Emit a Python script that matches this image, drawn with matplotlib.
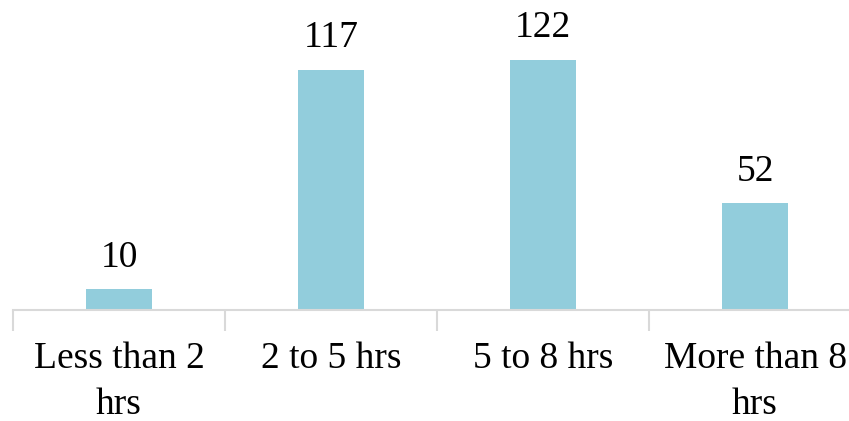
import numpy as np
import matplotlib.pyplot as plt

plt.rc('font', family=['Liberation Serif', 'DejaVu Serif'])

categories = ["Less than 2\nhrs", "2 to 5 hrs", "5 to 8 hrs", "More than 8\nhrs"]
counts = [10, 117, 122, 52]

fig = plt.figure(figsize=(8.49, 4.21), dpi=100)
# axis runs off the right edge, like the source image
ax = fig.add_axes([13 / 849, (421 - 310) / 421, 848 / 849, 310 / 421])

x = np.arange(len(categories))
bars = ax.bar(x, counts, width=0.31, color="#92CDDC", zorder=2)

for xi, v in zip(x, counts):
    ax.text(xi, v + 7, str(v), ha="center", va="bottom", fontsize=27, color="black")

ax.set_xlim(-0.5, 3.5)
ax.set_ylim(0, 151)

for s in ["top", "right", "left"]:
    ax.spines[s].set_visible(False)
ax.spines["bottom"].set_color("#D9D9D9")
ax.spines["bottom"].set_linewidth(1.5)

ax.set_yticks([])
ax.set_xticks(np.arange(-0.5, 4.0, 1.0))
ax.set_xticklabels([])
ax.tick_params(axis="x", length=15, width=1.5, color="#D9D9D9", direction="out")
ax.set_xticks(x, minor=True)
ax.set_xticklabels(categories, minor=True, fontsize=27, linespacing=1.4)
ax.tick_params(axis="x", which="minor", length=0, pad=23)

fig.savefig("out.png", dpi=100)
